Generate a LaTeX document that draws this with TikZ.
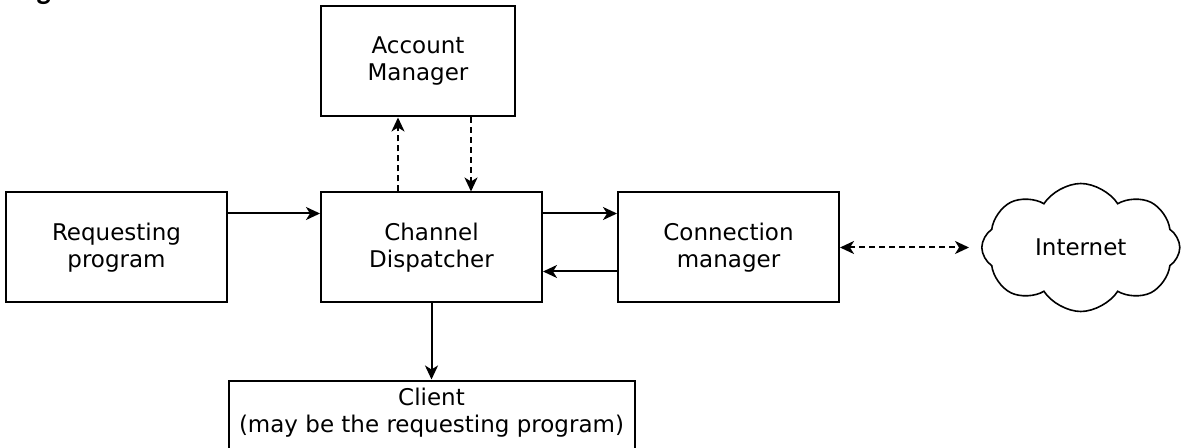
\documentclass[tikz,border=0pt]{standalone}
\usepackage{fontspec}
\setmainfont{DejaVu Sans}
\newfontfamily\headfont{Carlito}
\usetikzlibrary{positioning,shapes.symbols,arrows.meta}

\begin{document}
\begin{tikzpicture}[
        block/.style={rectangle, draw, line width=1pt, minimum width=110.5pt, minimum height=55pt, align=center, font=\fontsize{11.5}{13.5}\selectfont},
        arrow/.style={-{Stealth[length=7pt, width=6.5pt, inset=2pt]}, line width=1pt},
        dasharrow/.style={arrow, dash pattern=on 3pt off 2pt},
        dasharrows/.style={dasharrow, {Stealth[length=7pt, width=6.5pt, inset=2pt]}-{Stealth[length=7pt, width=6.5pt, inset=2pt]}},
        node distance=37pt
    ]
    \useasboundingbox (0,0) rectangle (590.5pt,-224pt);

    % Heading (cut off at the top)
    \node[anchor=base west, inner sep=0pt, font=\headfont\bfseries\fontsize{15}{18}\selectfont] (title) at (5pt,0pt) {High level scenario};

    % Blocks
    \node[block] (chan) at (215.75pt,-123.75pt) {Channel\\Dispatcher};
    \node[block, left=46pt of chan] (req) {Requesting\\program};
    \node[block, right=of chan] (conn) {Connection\\manager};
    \node[block, minimum width=97pt, above=37pt of chan.north west, anchor=south west] (acct) {Account\\Manager};
    \node[block, minimum width=203pt, minimum height=0pt, inner ysep=4pt, text depth=11pt, below=38pt of chan] (client) {Client\\(may be the requesting program)};
    \node[cloud, draw, line width=0.8pt, cloud puffs=8, cloud puff arc=115, aspect=1.55, minimum width=99pt, minimum height=64pt, inner sep=0pt, right=70.5pt of conn, font=\fontsize{11.5}{13.5}\selectfont] (net) {Internet};

    % Connections
    \draw[arrow] ([yshift=-11pt]req.north east) -- ([yshift=-11pt]chan.north west);
    \draw[arrow] ([yshift=-11pt]chan.north east) -- ([yshift=-11pt]conn.north west);
    \draw[arrow] ([yshift=16pt]conn.south west) -- ([yshift=16pt]chan.south east);
    \draw[dasharrow] ([xshift=39pt]chan.north west) -- ([xshift=39pt]acct.south west);
    \draw[dasharrow] ([xshift=75.5pt]acct.south west) -- ([xshift=75.5pt]chan.north west);
    \draw[arrow] (chan.south) -- (client.north);
    \draw[dasharrows, shorten >=6pt] (conn.east) -- (net.west);

\end{tikzpicture}
\end{document}
